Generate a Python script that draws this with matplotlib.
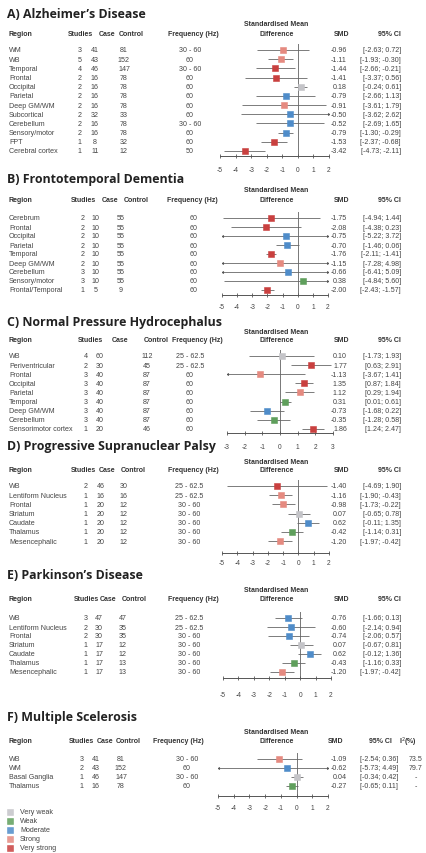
import matplotlib
matplotlib.use("Agg")
import matplotlib.pyplot as plt

# ---------------- data ----------------
ad_regions = ["WM", "WB", "Temporal", "Frontal", "Occipital", "Parietal", "Deep GM/WM",
              "Subcortical", "Cerebellum", "Sensory/motor", "FPT", "Cerebral cortex"]
ad_studies = [3, 5, 4, 2, 2, 2, 2, 2, 2, 2, 1, 1]
ad_case = [41, 43, 46, 16, 16, 16, 16, 32, 16, 16, 8, 11]
ad_control = [81, 152, 147, 78, 78, 78, 78, 33, 78, 78, 32, 12]
ad_freq = ["30 - 60", "60", "30 - 60", "60", "60", "60", "60", "60", "30 - 60", "60", "60", "50"]
ad_smd = [-0.96, -1.11, -1.44, -1.41, 0.18, -0.79, -0.91, -0.50, -0.52, -0.79, -1.53, -3.42]
ad_lo = [-2.63, -1.93, -2.66, -3.37, -0.24, -2.66, -3.61, -3.62, -2.69, -1.30, -2.37, -4.73]
ad_hi = [0.72, -0.30, -0.21, 0.56, 0.61, 1.13, 1.79, 2.62, 1.65, -0.29, -0.68, -2.11]
ad_strength = ["Strong", "Strong", "Very strong", "Very strong", "Very weak", "Moderate", "Strong",
               "Moderate", "Moderate", "Moderate", "Very strong", "Very strong"]

ftd_regions = ["Cerebrum", "Frontal", "Occipital", "Parietal", "Temporal", "Deep GM/WM",
               "Cerebellum", "Sensory/motor", "Frontal/Temporal"]
ftd_studies = [2, 2, 2, 2, 2, 2, 3, 3, 1]
ftd_case = [10, 10, 10, 10, 10, 10, 10, 10, 5]
ftd_control = [55, 55, 55, 55, 55, 55, 55, 55, 9]
ftd_freq = ["60"] * 9
ftd_smd = [-1.75, -2.08, -0.75, -0.70, -1.76, -1.15, -0.66, 0.38, -2.00]
ftd_lo = [-4.94, -4.38, -5.22, -1.46, -2.11, -7.28, -6.41, -4.84, -2.43]
ftd_hi = [1.44, 0.23, 3.72, 0.06, -1.41, 4.98, 5.09, 5.60, -1.57]
ftd_strength = ["Very strong", "Very strong", "Moderate", "Moderate", "Very strong", "Strong",
                "Moderate", "Weak", "Very strong"]

nph_regions = ["WB", "Periventricular", "Frontal", "Occipital", "Parietal", "Temporal",
               "Deep GM/WM", "Cerebellum", "Sensorimotor cortex"]
nph_studies = [4, 2, 3, 3, 3, 3, 3, 3, 1]
nph_case = [60, 30, 40, 40, 40, 40, 40, 40, 20]
nph_control = [112, 45, 87, 87, 87, 87, 87, 87, 46]
nph_freq = ["25 - 62.5", "25 - 62.5", "60", "60", "60", "60", "60", "60", "60"]
nph_smd = [0.10, 1.77, -1.13, 1.35, 1.12, 0.31, -0.73, -0.35, 1.86]
nph_lo = [-1.73, 0.63, -3.67, 0.87, 0.29, 0.01, -1.68, -1.28, 1.24]
nph_hi = [1.93, 2.91, 1.41, 1.84, 1.94, 0.61, 0.22, 0.58, 2.47]
nph_strength = ["Very weak", "Very strong", "Strong", "Very strong", "Strong", "Weak",
                "Moderate", "Weak", "Very strong"]

psp_regions = ["WB", "Lentiform Nucleus", "Frontal", "Striatum", "Caudate", "Thalamus", "Mesencephalic"]
psp_studies = [2, 1, 1, 1, 1, 1, 1]
psp_case = [46, 16, 20, 20, 20, 20, 20]
psp_control = [30, 16, 12, 12, 12, 12, 12]
psp_freq = ["25 - 62.5", "25 - 62.5", "30 - 60", "30 - 60", "30 - 60", "30 - 60", "30 - 60"]
psp_smd = [-1.40, -1.16, -0.98, 0.07, 0.62, -0.42, -1.20]
psp_lo = [-4.69, -1.90, -1.73, -0.65, -0.11, -1.14, -1.97]
psp_hi = [1.90, -0.43, -0.22, 0.78, 1.35, 0.31, -0.42]
psp_strength = ["Very strong", "Strong", "Strong", "Very weak", "Moderate", "Weak", "Strong"]

pd_regions = ["WB", "Lentiform Nucleus", "Frontal", "Striatum", "Caudate", "Thalamus", "Mesencephalic"]
pd_studies = [3, 2, 2, 1, 1, 1, 1]
pd_case = [47, 30, 30, 17, 17, 17, 17]
pd_control = [47, 35, 35, 12, 12, 13, 13]
pd_freq = ["25 - 62.5", "25 - 62.5", "30 - 60", "30 - 60", "30 - 60", "30 - 60", "30 - 60"]
pd_smd = [-0.76, -0.60, -0.74, 0.07, 0.62, -0.43, -1.20]
pd_lo = [-1.66, -2.14, -2.06, -0.67, -0.12, -1.16, -1.97]
pd_hi = [0.13, 0.94, 0.57, 0.81, 1.36, 0.33, -0.42]
pd_strength = ["Moderate", "Moderate", "Moderate", "Very weak", "Moderate", "Weak", "Strong"]

ms_regions = ["WB", "WM", "Basal Ganglia", "Thalamus"]
ms_studies = [3, 2, 1, 1]
ms_case = [41, 43, 46, 16]
ms_control = [81, 152, 147, 78]
ms_freq = ["30 - 60", "60", "30 - 60", "60"]
ms_smd = [-1.09, -0.62, 0.04, -0.27]
ms_lo = [-2.54, -5.73, -0.34, -0.65]
ms_hi = [0.36, 4.49, 0.42, 0.11]
ms_strength = ["Strong", "Moderate", "Very weak", "Weak"]
ms_i2 = ["73.5", "79.7", "-", "-"]

strength_levels = ["Very weak", "Weak", "Moderate", "Strong", "Very strong"]
strength_colors = {"Very weak": "#c4c4c8", "Weak": "#5f9f5c", "Moderate": "#4f8cc9",
                   "Strong": "#e58a80", "Very strong": "#c9403f"}

# ---------------- layout helpers (pixel coordinates) ----------------
W, H = 427, 854
fig = plt.figure(figsize=(W / 100, H / 100), dpi=100)
TXT = "#444444"
HDR = "#333333"
SMALL = ["Liberation Sans", "DejaVu Sans"]
TITLE = ["Open Sans", "DejaVu Sans"]


def fx(x):
    return x / W


def fy(y):
    return 1 - y / H


def put(x, y, s, ha="left", size=5.1, weight="normal", color=TXT, family=SMALL):
    fig.text(fx(x), fy(y), s, ha=ha, va="center", fontsize=size, fontweight=weight,
             color=color, family=family)


def header(x, y, s, ha="center"):
    put(x, y, s, ha=ha, size=5.0, weight="bold", color=HDR)


def panel(title, regions, studies, case, control, freq, smd, lo, hi, strength, lay, i2=None):
    put(7, lay["title_y"], title, size=8.9, weight="bold", color="#222222", family=TITLE)
    hy = lay["hdr_y"]
    hc = lay["hcols"]
    header(9, hy, "Region", ha="left")
    header(hc[0], hy, "Studies")
    header(hc[1], hy, "Case")
    header(hc[2], hy, "Control")
    header(hc[3], hy, "Frequency (Hz)")
    header(276, hy - 9, "Standardised Mean")
    header(277, hy, "Difference")
    header(lay.get("smd_h", 342), hy, "SMD")
    header(lay.get("ci_h", 389), hy, "95% CI")
    if i2 is not None:
        header(408, hy, "I$^2$(%)")

    vc = lay["vcols"]
    n = len(regions)
    for i in range(n):
        y = lay["row0"] + i * lay["step"]
        put(9, y, regions[i])
        put(vc[0], y, str(studies[i]), ha="center")
        put(vc[1], y, str(case[i]), ha="center")
        put(vc[2], y, str(control[i]), ha="center")
        put(vc[3], y, freq[i], ha="center")
        put(347, y, f"{smd[i]:.2f}", ha="right")
        put(lay.get("ci_r", 401), y, f"[{lo[i]:.2f}; {hi[i]:.2f}]", ha="right")
        if i2 is not None:
            put(416, y, i2[i], ha="center")

    # forest axes: x in SMD units, y in row index
    top = lay["row0"] - 6
    bot = lay["axis_y"]
    ax = fig.add_axes([fx(lay["x0"]), fy(bot), (lay["x1"] - lay["x0"]) / W, (bot - top) / H])
    xmin, xmax = lay["xlim"]
    ax.set_xlim(xmin, xmax)
    ax.set_ylim((bot - lay["row0"]) / lay["step"], (top - lay["row0"]) / lay["step"])
    ax.patch.set_alpha(0)
    for s in ("left", "right", "top"):
        ax.spines[s].set_visible(False)
    ax.spines["bottom"].set_color("#555555")
    ax.spines["bottom"].set_linewidth(0.7)
    ax.set_yticks([])
    ticks = list(range(xmin, xmax + 1))
    ax.set_xticks(ticks)
    ax.set_xticklabels([str(t) for t in ticks], fontsize=4.8, color=TXT, family=SMALL)
    ax.tick_params(axis="x", direction="inout", length=3, width=0.6, color="#555555",
                   pad=lay["tick_pad"])
    ax.axvline(0, color="#777777", lw=0.7, zorder=1)

    for i in range(n):
        a, b = max(lo[i], xmin), min(hi[i], xmax)
        ax.plot([a, b], [i, i], color="#666666", lw=0.6, zorder=2, solid_capstyle="butt")
        if lo[i] < xmin:
            ax.plot([xmin], [i], marker="<", ms=2.2, color="#555555", mew=0, zorder=2)
        if hi[i] > xmax:
            ax.plot([xmax], [i], marker=">", ms=2.2, color="#555555", mew=0, zorder=2)
        c = strength_colors[strength[i]]
        ax.plot([smd[i]], [i], marker="s", ms=4.8, color=c, mec=c, mew=0.4, zorder=3)
    return ax


lay_a = dict(title_y=15, hdr_y=34, row0=51, step=9.18, axis_y=157, tick_pad=6,
             x0=220, x1=329, xlim=(-5, 2),
             hcols=(80, 107, 131, 193), vcols=(80, 95, 124, 190))
lay_b = dict(title_y=180, hdr_y=200, row0=219, step=9.0, axis_y=296, tick_pad=4,
             x0=222, x1=328, xlim=(-5, 2),
             hcols=(83, 110, 136, 192), vcols=(83, 96, 121, 194))
lay_c = dict(title_y=323, hdr_y=341, row0=357, step=9.1, axis_y=434, tick_pad=6,
             x0=227, x1=333, xlim=(-3, 3),
             hcols=(90, 120, 156, 197), vcols=(86, 100, 147, 190))
lay_d = dict(title_y=447, hdr_y=471, row0=487, step=9.2, axis_y=554, tick_pad=3,
             x0=222, x1=329, xlim=(-5, 2),
             hcols=(83, 107, 133, 193), vcols=(86, 101, 124, 189))
lay_e = dict(title_y=576, hdr_y=600, row0=619, step=9.0, axis_y=679, tick_pad=8,
             x0=223, x1=331, xlim=(-5, 2),
             hcols=(86, 108, 134, 193), vcols=(86, 99, 123, 189))
lay_f = dict(title_y=717, hdr_y=742, row0=760, step=9.0, axis_y=797, tick_pad=4,
             x0=218, x1=328, xlim=(-5, 2),
             hcols=(81, 105, 128, 178), vcols=(82, 96, 121, 187),
             smd_h=336, ci_h=380, ci_r=398)

panel("A) Alzheimer\u2019s Disease", ad_regions, ad_studies, ad_case, ad_control, ad_freq,
      ad_smd, ad_lo, ad_hi, ad_strength, lay_a)
panel("B) Frontotemporal Dementia", ftd_regions, ftd_studies, ftd_case, ftd_control, ftd_freq,
      ftd_smd, ftd_lo, ftd_hi, ftd_strength, lay_b)
panel("C) Normal Pressure Hydrocephalus", nph_regions, nph_studies, nph_case, nph_control, nph_freq,
      nph_smd, nph_lo, nph_hi, nph_strength, lay_c)
panel("D) Progressive Supranuclear Palsy", psp_regions, psp_studies, psp_case, psp_control, psp_freq,
      psp_smd, psp_lo, psp_hi, psp_strength, lay_d)
panel("E) Parkinson\u2019s Disease", pd_regions, pd_studies, pd_case, pd_control, pd_freq,
      pd_smd, pd_lo, pd_hi, pd_strength, lay_e)
panel("F) Multiple Scelerosis", ms_regions, ms_studies, ms_case, ms_control, ms_freq,
      ms_smd, ms_lo, ms_hi, ms_strength, lay_f, i2=ms_i2)

# legend of effect strength
for k, lvl in enumerate(strength_levels):
    y = 813 + k * 9
    c = strength_colors[lvl]
    fig.patches.append(plt.Rectangle((fx(7.5), fy(y + 2.8)), 5.5 / W, 5.5 / H,
                                     transform=fig.transFigure, facecolor=c, edgecolor=c,
                                     lw=0.4, alpha=0.85))
    put(20, y, lvl)

fig.savefig("out.png", dpi=100, facecolor="white")
